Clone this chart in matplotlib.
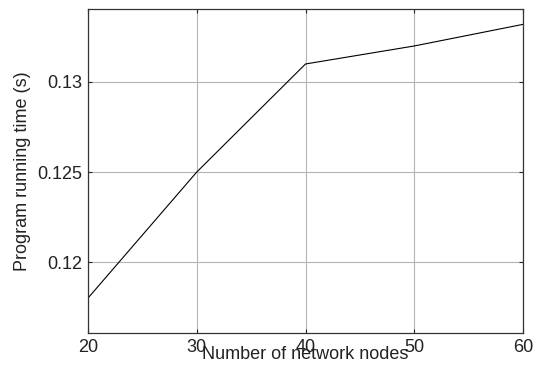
import numpy as np
import matplotlib.pyplot as plt

# Values
nodes = [20, 30, 40, 50, 60]
run_time = [0.118, 0.125, 0.131, 0.132, 0.1332]
x_ticks = [20, 30, 40, 50, 60]
y_ticks = [0.12, 0.125, 0.13]
y_tick_labels = ['0.12', '0.125', '0.13']

plt.rcParams['font.family'] = ['Liberation Sans', 'DejaVu Sans']

fig = plt.figure(figsize=(5.39, 3.70), dpi=100)
ax = fig.add_axes([0.1633, 0.100, 0.807, 0.876])

ax.plot(nodes, run_time, color='black', linewidth=0.8)

ax.set_xlim(20, 60)
ax.set_ylim(0.11606, 0.13406)
ax.set_xticks(x_ticks)
ax.set_yticks(y_ticks)
ax.set_yticklabels(y_tick_labels)

ax.grid(True, color='#b4b4b4', linewidth=0.8)
ax.tick_params(direction='in', length=3, top=True, right=True,
               labelsize=13, colors='#222222', pad=4)
for s in ax.spines.values():
    s.set_color('#333333')
    s.set_linewidth(0.9)

# the axis title sits over the tick labels, as in the reference
ax.set_xlabel('Number of network nodes', fontsize=13, color='#222222')
ax.xaxis.set_label_coords(0.5, -0.04)
ax.set_ylabel('Program running time (s)', fontsize=13, color='#222222')
ax.yaxis.set_label_coords(-0.13, 0.5)

fig.savefig('out.png', dpi=100)
